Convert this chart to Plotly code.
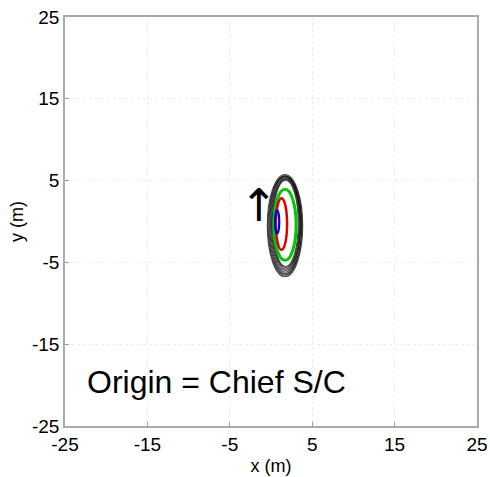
import plotly.graph_objects as go

# Axis ticks
tick_vals = [-25, -15, -5, 5, 15, 25]
tick_text = ["-25", "-15", "-5", "5", "15", "25"]

# Ellipse bounds (data units): x0, x1, y0, y1
black_x0 = [-0.45, -0.35, -0.25, -0.15, -0.05, 0.05, 0.15, 0.25]
black_x1 = [3.85, 3.75, 3.7, 3.6, 3.55, 3.5, 3.4, 3.3]
black_y0 = [-6.75, -6.55, -6.4, -6.2, -6.0, -5.8, -5.65, -5.5]
black_y1 = [5.75, 5.6, 5.55, 5.45, 5.35, 5.25, 5.15, 5.05]

green_box = [0.35, 3.05, -4.75, 3.95]
red_box = [0.6, 1.95, -3.45, 2.85]
blue_box = [0.5, 1.0, -1.45, 1.35]

arrow_x = -1.5
arrow_y = 2.0
label_x = -22.6
label_y = -19.6

fig = go.Figure()
fig.add_trace(go.Scatter(x=[None], y=[None], mode="markers", showlegend=False))

shapes = []
for x0, x1, y0, y1 in zip(black_x0, black_x1, black_y0, black_y1):
    shapes.append(dict(type="circle", xref="x", yref="y", x0=x0, x1=x1, y0=y0, y1=y1,
                       line=dict(color="rgba(0,0,0,0.7)", width=1.1)))
for box, col, w in [(green_box, "#00c800", 3), (red_box, "#e00000", 2.5), (blue_box, "#0000e0", 2.2)]:
    shapes.append(dict(type="circle", xref="x", yref="y", x0=box[0], x1=box[1], y0=box[2], y1=box[3],
                       line=dict(color=col, width=w)))
fig.update_layout(shapes=shapes)

fig.add_annotation(x=arrow_x, y=arrow_y, xref="x", yref="y", text="↑", showarrow=False,
                   font=dict(family="DejaVu Sans", size=45, color="black"))
fig.add_annotation(x=label_x, y=label_y, xref="x", yref="y", text="Origin = Chief S/C",
                   showarrow=False, xanchor="left", yanchor="middle",
                   font=dict(family="Liberation Sans", size=32, color="black"))

axis_common = dict(
    range=[-25, 25], tickvals=tick_vals, ticktext=tick_text, ticks="inside", ticklen=4, tickcolor="#999",
    showgrid=True, gridcolor="#ececec", griddash="dot", gridwidth=1,
    showline=True, linecolor="#aaaaaa", linewidth=1.5, mirror=True,
    zeroline=False, automargin=False, ticklabeloverflow="allow",
    tickfont=dict(family="Liberation Sans", size=19, color="black"),
)
fig.update_xaxes(**axis_common, ticklabelstandoff=0,
                 title=dict(text="x (m)", font=dict(family="Liberation Sans", size=18, color="black"), standoff=6))
fig.update_yaxes(**axis_common,
                 title=dict(text="y (m)", font=dict(family="Liberation Sans", size=18, color="black"), standoff=4))

fig.update_layout(
    width=490, height=477,
    margin=dict(l=65, r=13, t=17, b=51),
    plot_bgcolor="white", paper_bgcolor="white",
    showlegend=False,
)
fig.write_html("out.html", config={"displayModeBar": False},
               post_script="document.body.style.margin='0';document.body.style.overflow='hidden';")
